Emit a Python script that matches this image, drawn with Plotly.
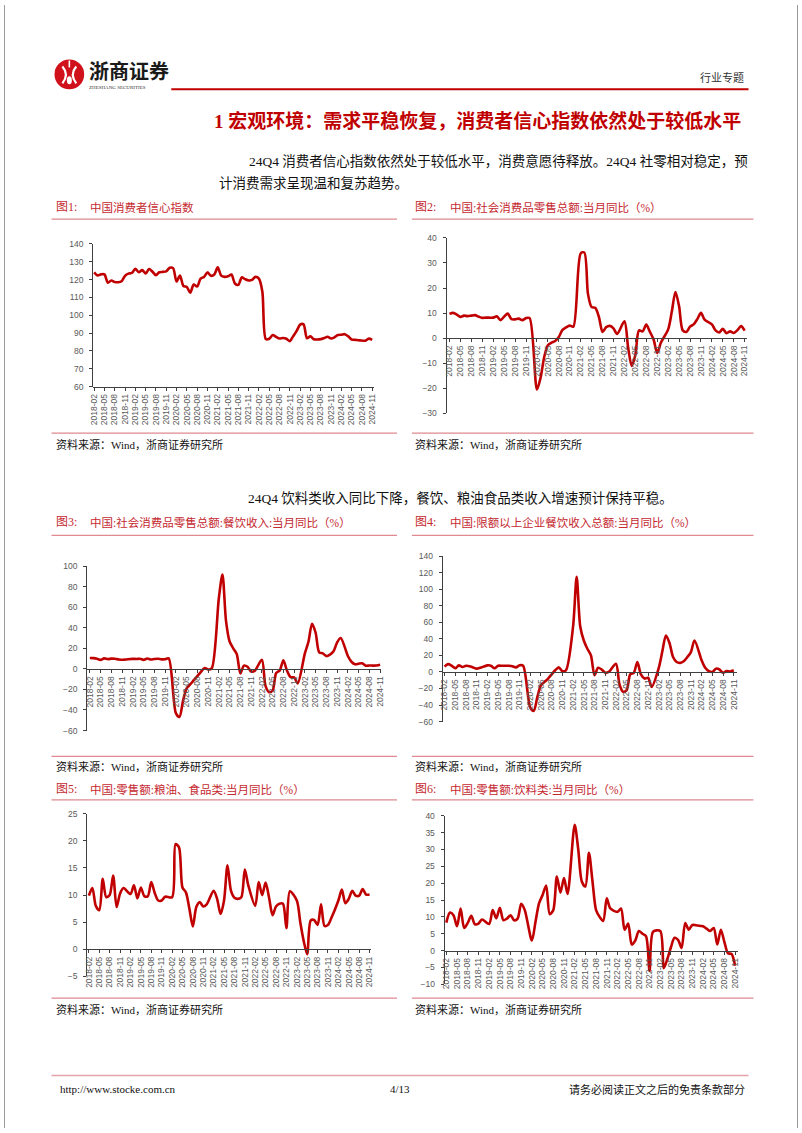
import plotly.graph_objects as go

W, H = 802, 1133
def px(x): return x / W
def py(y): return 1 - y / H

# ---------------- data ----------------
all_months = [f"{y}-{m:02d}" for y in range(2018, 2025) for m in range(1, 13)]
months = all_months[all_months.index("2018-02"): all_months.index("2024-11") + 1]
tick_labels = months[::3]

# Fig1 consumer confidence index
cci = [124.0, 122.3, 122.9, 122.9, 118.2, 119.5, 118.6, 118.5, 119.1, 122.1, 123.3,
       123.7, 126.0, 124.1, 125.3, 123.4, 125.9, 124.4, 122.4, 124.1, 124.3, 124.6, 126.6,
       126.4, 118.9, 122.2, 116.4, 115.8, 112.6, 117.2, 116.1, 120.5, 121.5, 124.0, 122.1,
       122.8, 126.8, 122.2, 121.5, 121.8, 122.8, 117.8, 117.0, 121.2, 120.2, 119.5, 119.8,
       121.5, 120.5, 113.2, 86.7, 86.8, 88.9, 87.9, 87.0, 87.2, 86.8, 85.5, 88.3,
       91.2, 94.7, 94.9, 87.1, 88.2, 86.5, 86.4, 86.6, 87.2, 87.9, 87.0, 87.6,
       88.9, 89.1, 89.4, 88.2, 86.4, 86.2, 86.0, 85.8, 85.7, 86.9, 86.2]

# Fig2 total retail sales yoy (January not published)
retail = [9.7, 10.1, 9.4, 8.5, 9.0, 8.8, 9.0, 9.2, 8.6, 8.1, 8.2,
          None, 8.2, 8.7, 7.2, 8.6, 9.8, 7.6, 7.5, 7.8, 7.2, 8.0, 8.0,
          None, -20.5, -15.8, -7.5, -2.8, -1.8, -1.1, 0.5, 3.3, 4.3, 5.0, 4.6,
          None, 33.8, 34.2, 17.7, 12.4, 12.1, 8.5, 2.5, 4.4, 4.9, 3.9, 1.7,
          None, 6.7, -3.5, -11.1, -6.7, 3.1, 2.7, 5.4, 2.5, -0.5, -5.9, -1.8,
          None, 3.5, 10.6, 18.4, 12.7, 3.1, 2.5, 4.6, 5.5, 7.6, 10.1, 7.4,
          None, 5.5, 3.1, 2.3, 3.7, 2.0, 2.7, 2.1, 3.2, 4.8, 3.0]

# Fig3 catering revenue yoy
catering = [10.5, 10.4, 9.8, 8.7, 10.2, 9.5, 9.9, 9.8, 9.2, 8.8, 9.1,
            None, 9.7, 9.6, 9.8, 8.7, 10.0, 9.1, 9.6, 9.8, 9.2, 9.3, 10.2,
            None, -43.1, -46.8, -31.1, -18.9, -15.2, -11.0, -7.0, -2.9, 0.8, -0.6, 0.4,
            None, 68.9, 91.6, 46.4, 26.6, 20.0, 14.3, -4.5, 3.1, 2.0, -2.7, -2.0,
            None, 8.9, -16.4, -22.7, -21.1, -4.0, -1.5, 8.4, -1.7, -8.1, -8.4, -14.1,
            None, 15.0, 26.3, 43.8, 35.1, 16.1, 15.1, 12.4, 13.8, 17.1, 25.8, 30.0,
            None, 12.5, 6.9, 4.4, 5.0, 5.4, 3.0, 3.3, 3.1, 3.2, 4.0]

# Fig4 catering revenue of enterprises above designated size yoy
catering_above = [6.5, 9.5, 7.5, 4.5, 8.0, 6.0, 7.5, 7.0, 5.5, 4.0, 5.0,
                  None, 8.0, 7.5, 4.5, 7.5, 7.5, 7.5, 7.5, 7.0, 5.5, 8.0, 7.5,
                  None, -43.0, -47.0, -30.0, -16.0, -12.0, -8.0, -3.0, 2.0, 5.5, 1.0, 2.0,
                  None, 55.0, 115.0, 55.0, 38.0, 28.0, 20.0, -4.0, 5.0, 3.0, -1.0, 0.0,
                  None, 10.0, -15.0, -24.0, -22.0, -3.0, -1.0, 12.0, -3.0, -8.0, -7.0, -18.0,
                  None, 5.0, 25.0, 44.0, 35.0, 18.0, 12.0, 11.0, 13.0, 18.0, 24.0, 38.0,
                  None, 14.0, 5.0, 1.0, 0.0, 4.0, 3.0, -1.0, 1.0, 0.5, 2.0]

# Fig5 grain, oil & food retail yoy
grain_food = [9.9, 11.3, 8.0, 7.2, 13.0, 9.6, 10.0, 13.6, 7.8, 10.3, 11.3,
              None, 10.2, 11.8, 9.4, 11.4, 9.8, 9.8, 12.4, 10.4, 9.0, 9.0, 9.7,
              None, 9.6, 19.4, 18.8, 11.4, 10.5, 7.5, 4.2, 7.8, 8.7, 7.9, 8.3,
              None, 10.8, 9.3, 6.5, 9.0, 15.5, 10.8, 9.5, 9.3, 9.6, 14.7, 11.8,
              None, 8.0, 12.4, 10.0, 12.3, 9.5, 6.3, 7.9, 8.4, 8.4, 3.9, 10.7,
              None, 9.0, 5.0, 1.5, -0.9, 5.3, 5.4, 4.5, 8.3, 4.3, 4.5, 5.8,
              None, 9.0, 11.0, 8.5, 9.3, 10.8, 9.9, 9.9, 11.1, 10.1, 10.1]

# Fig6 beverage retail yoy
beverage = [8.3, 11.3, 10.5, 7.2, 12.5, 6.7, 8.2, 10.3, 7.8, 8.0, 9.2,
            None, 7.9, 12.0, 9.6, 12.7, 9.0, 9.5, 10.5, 9.0, 9.5, 13.9, 12.0,
            None, 3.0, 8.5, 14.0, 16.5, 19.3, 10.8, 12.0, 22.0, 17.2, 21.5, 16.8,
            None, 37.3, 30.0, 20.5, 19.0, 29.0, 20.5, 12.0, 10.0, 8.8, 15.5, 12.5,
            None, 11.5, 12.5, 6.2, 8.0, 1.8, 3.0, 5.8, 5.0, 4.3, -6.0, 5.6,
            None, 5.8, -5.2, -2.5, 1.0, 3.8, 3.2, 0.8, 8.2, 6.2, 7.6, 7.5,
            None, 7.2, 6.5, 5.8, 6.7, 1.8, 6.2, 2.5, -0.8, -1.0, -4.5]

fig_titles = ["中国消费者信心指数",
              "中国:社会消费品零售总额:当月同比（%）",
              "中国:社会消费品零售总额:餐饮收入:当月同比（%）",
              "中国:限额以上企业餐饮收入总额:当月同比（%）",
              "中国:零售额:粮油、食品类:当月同比（%）",
              "中国:零售额:饮料类:当月同比（%）"]
source_text = "资料来源：Wind，浙商证券研究所"

# ---------------- styles / layout ----------------
RED = "#C00000"
TITLE_RED = "#C5282F"
PINK = "#DE8A90"
AXIS = "#404040"
SERIF = "Liberation Serif, Noto Sans CJK SC, serif"
SANS_CJK = "Noto Sans CJK SC, sans-serif"
TICKF = dict(size=8.5, color="#595959", family="Liberation Sans, Arial, sans-serif")

panels = [
    dict(y=cci, x0=90, x1=374, xr=[-0.3, 81.6], yb=385, yt=241, yr=[60, 140], dt=10, at=60),
    dict(y=retail, x0=447, x1=750, xr=[-0.8, 81.5], yb=412, yt=235, yr=[-30, 40], dt=10, at=0),
    dict(y=catering, x0=84, x1=381, xr=[-0.75, 81.3], yb=732, yt=566, yr=[-60, 100], dt=20, at=0),
    dict(y=catering_above, x0=443, x1=740, xr=[-0.55, 81.8], yb=723, yt=556, yr=[-60, 140], dt=20, at=0),
    dict(y=grain_food, x0=84, x1=371, xr=[-0.5, 81.5], yb=980, yt=816, yr=[-5, 25], dt=5, at=0),
    dict(y=beverage, x0=445, x1=741, xr=[-0.5, 81.7], yb=988, yt=818, yr=[-10, 40], dt=5, at=0),
]

fig = go.Figure()
layout_axes = {}
for i, p in enumerate(panels, start=1):
    sx = "" if i == 1 else str(i)
    fig.add_trace(go.Scatter(x=months, y=p["y"], mode="lines", connectgaps=True,
                             line=dict(color=RED, width=2.6, shape="spline", smoothing=0.8),
                             xaxis="x" + sx, yaxis="y" + sx, showlegend=False, hoverinfo="skip"))
    lo, hi = p["yr"]
    axis_y = p["yb"] - (p["at"] - lo) / (hi - lo) * (p["yb"] - p["yt"])
    layout_axes["xaxis" + sx] = dict(
        type="category", domain=[px(p["x0"]), px(p["x1"])], range=p["xr"],
        tickmode="array", tickvals=tick_labels, ticktext=tick_labels, tickangle=-90,
        tickfont=TICKF, showline=True, linecolor=AXIS, linewidth=1,
        ticks="outside", ticklen=3, tickcolor=AXIS, showgrid=False, zeroline=False,
        anchor="free", position=py(axis_y), fixedrange=True)
    layout_axes["yaxis" + sx] = dict(
        domain=[py(p["yb"]), py(p["yt"])], range=[lo, hi], tick0=lo, dtick=p["dt"],
        tickfont=TICKF, showline=True, linecolor=AXIS, linewidth=1,
        ticks="outside", ticklen=3, tickcolor=AXIS, showgrid=False, zeroline=False,
        anchor="x" + sx, ticklabelstandoff=4, fixedrange=True)

ann = []
def txt(x, y, s, size, color="#000000", xanchor="left", family=SERIF):
    ann.append(dict(x=px(x), y=py(y), xref="paper", yref="paper", text=s, showarrow=False,
                    xanchor=xanchor, yanchor="middle", font=dict(size=size, color=color, family=family)))

shapes = []
def hline(x0, x1, y, color, width=1):
    shapes.append(dict(type="line", xref="paper", yref="paper", x0=px(x0), x1=px(x1),
                       y0=py(y), y1=py(y), line=dict(color=color, width=width)))

# page border
shapes.append(dict(type="line", xref="paper", yref="paper", x0=px(0.5), x1=px(0.5), y0=0, y1=1,
                   line=dict(color="#9a9a9a", width=1)))
shapes.append(dict(type="line", xref="paper", yref="paper", x0=px(801.5), x1=px(801.5), y0=0, y1=1,
                   line=dict(color="#9a9a9a", width=1)))

# header: logo
shapes.append(dict(type="circle", xref="paper", yref="paper", x0=px(51), x1=px(81), y0=py(85), y1=py(55),
                   fillcolor="#D0101B", line=dict(width=0)))
shapes.append(dict(type="path", xref="paper", yref="paper",
                   path=f"M {px(59)},{py(62)} Q {px(66)},{py(70)} {px(59)},{py(79)} "
                        f"M {px(73)},{py(62)} Q {px(66)},{py(70)} {px(73)},{py(79)}",
                   line=dict(color="white", width=2.2)))
shapes.append(dict(type="circle", xref="paper", yref="paper", x0=px(63.5), x1=px(68.5), y0=py(80), y1=py(72),
                   fillcolor="white", line=dict(width=0)))
shapes.append(dict(type="line", xref="paper", yref="paper", x0=px(66), x1=px(66), y0=py(56), y1=py(63),
                   line=dict(color="white", width=1.6)))
txt(84, 66, "<b>浙商证券</b>", 20, "#1a1a1a", family=SANS_CJK)
txt(84, 83, "ZHESHANG SECURITIES", 5, "#333333", family="Liberation Serif, serif")
hline(169, 752, 85, "#C00000", 2)
txt(749, 73, "行业专题", 11, "#333333", xanchor="right")

# headline and text
txt(746, 117, "<b>1 宏观环境：需求平稳恢复，消费者信心指数依然处于较低水平</b>", 19, RED, xanchor="right")
txt(245, 157, "24Q4 消费者信心指数依然处于较低水平，消费意愿待释放。24Q4 社零相对稳定，预", 13.5, "#111111")
txt(215, 180, "计消费需求呈现温和复苏趋势。", 13.5, "#111111")
txt(244, 497, "24Q4 饮料类收入同比下降，餐饮、粮油食品类收入增速预计保持平稳。", 13.5, "#111111")

# figure titles, rules and sources
title_rows = [(204, 216, 432, 443), (522, 535, 758, 768), (791, 802, 1002, 1013)]
for r, (ty, tl, sl, st) in enumerate(title_rows):
    for c in range(2):
        k = r * 2 + c
        if c == 0:
            lx, tx, l0, l1 = 50, 85, 48, 397
        else:
            lx, tx, l0, l1 = 413, 448, 412, 757
        txt(lx, ty, f"图{k + 1}:", 12, TITLE_RED)
        txt(tx, ty, fig_titles[k], 11.5, TITLE_RED)
        hline(l0, l1, tl, PINK, 1.2)
        hline(l0, l1, sl, PINK, 1.2)
        txt(lx, st, source_text, 11, "#111111")

# footer
hline(48, 752, 1080, "#E4A3A9", 1.6)
txt(55, 1094, "http://www.stocke.com.cn", 11, "#111111")
txt(400, 1094, "4/13", 11, "#111111", xanchor="center")
txt(750, 1094, "请务必阅读正文之后的免责条款部分", 11, "#111111", xanchor="right")

fig.update_layout(width=W, height=H, autosize=False,
                  margin=dict(l=0, r=0, t=0, b=0, pad=0),
                  paper_bgcolor="white", plot_bgcolor="white",
                  annotations=ann, shapes=shapes, showlegend=False, **layout_axes)

fig.write_html("out.html")
